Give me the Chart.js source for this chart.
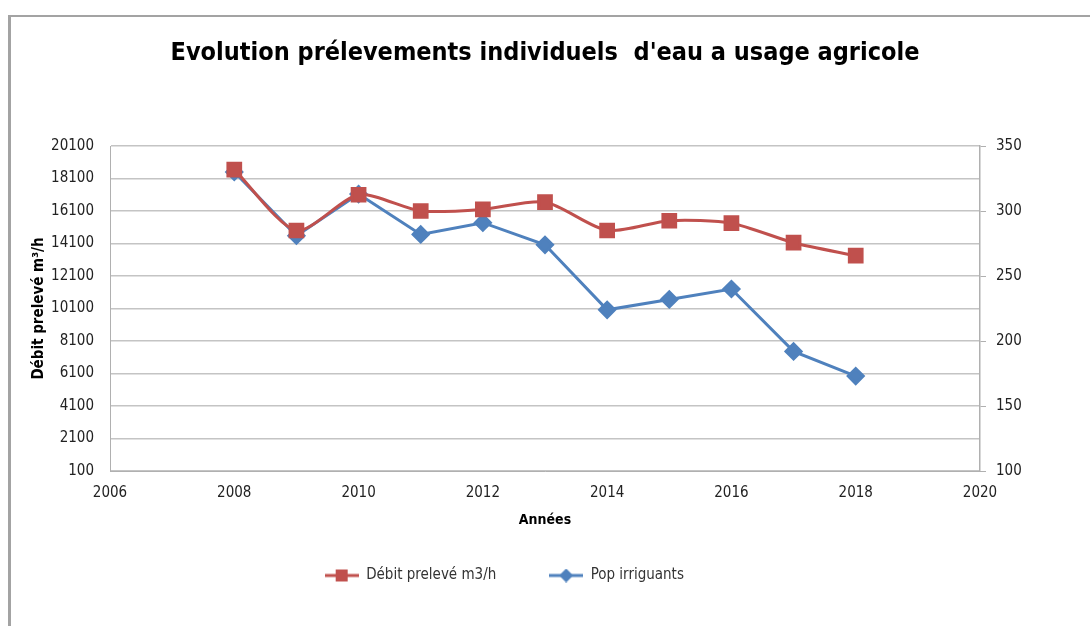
<!DOCTYPE html>
<html>
<head>
<meta charset="utf-8">
<script src="https://cdn.jsdelivr.net/npm/chart.js@4/dist/chart.umd.min.js"></script>
<style>
    body { margin: 0; background: #fff; }
    #frame { position: absolute; left: 8px; top: 15px; width: 1100px; height: 640px;
             border-left: 3px solid #a3a3a3; border-top: 2px solid #a3a3a3; }
    #wrap { position: absolute; left: 0; top: 0; width: 1090px; height: 626px; }
</style>
</head>
<body>
<div id="frame"></div>
<div id="wrap"><canvas id="chart" width="1090" height="626"></canvas></div>
<script>
var years = [2008, 2009, 2010, 2011, 2012, 2013, 2014, 2015, 2016, 2017, 2018];
var debit = [18650, 14900, 17100, 16100, 16200, 16650, 14900, 15500, 15350, 14150, 13350];
var irriguants = [330, 281, 313, 282, 291, 274, 224, 232, 240, 192, 173];
var leftTicks = [100, 2100, 4100, 6100, 8100, 10100, 12100, 14100, 16100, 18100, 20100];
var rightTicks = [100, 150, 200, 250, 300, 350];

var RED = '#c0504d';
var BLUE = '#4f81bd';
var FONT = '"DejaVu Sans Condensed", "Liberation Sans", sans-serif';

function points(values) {
    return years.map(function(y, i) { return { x: y, y: values[i] }; });
}

// small legend swatch: line with the marker in the middle, like Excel
function legendIcon(color, shape) {
    var c = document.createElement('canvas');
    c.width = 34; c.height = 14;
    var g = c.getContext('2d');
    g.strokeStyle = color; g.lineWidth = 3;
    g.beginPath(); g.moveTo(0, 7); g.lineTo(34, 7); g.stroke();
    g.fillStyle = color;
    if (shape === 'rect') {
        g.fillRect(11, 1, 12, 12);
    } else {
        g.beginPath(); g.moveTo(17, 0); g.lineTo(24, 7); g.lineTo(17, 14); g.lineTo(10, 7); g.closePath(); g.fill();
    }
    return c;
}

// trailing blanks only widen the gap between legend entries (Excel spacing)
var legendGap = ['          ', '                   '];

var ctx = document.getElementById('chart').getContext('2d');
var chart = new Chart(ctx, {
    type: 'line',
    data: {
        datasets: [{
            label: 'Débit prelevé m3/h',
            data: points(debit),
            yAxisID: 'y',
            borderColor: RED,
            backgroundColor: RED,
            borderWidth: 3,
            pointStyle: 'rect',
            pointRadius: 9,
            tension: 0.25
        }, {
            label: 'Pop irriguants',
            data: points(irriguants),
            yAxisID: 'y2',
            borderColor: BLUE,
            backgroundColor: BLUE,
            borderWidth: 3,
            pointStyle: 'rectRot',
            pointRadius: 7.5,
            tension: 0
        }]
    },
    options: {
        responsive: false,
        animation: false,
        layout: { padding: { left: 0, right: 0, top: 0, bottom: 33 } },
        plugins: {
            title: {
                display: true,
                text: "Evolution prélevements individuels  d'eau a usage agricole",
                color: '#000',
                font: { family: FONT, size: 25, weight: 'bold' },
                padding: { top: 38, bottom: 78 }
            },
            legend: {
                position: 'bottom',
                labels: {
                    usePointStyle: true,
                    pointStyleWidth: 34,
                    boxHeight: 14,
                    color: '#333',
                    font: { family: FONT, size: 15 },
                    padding: 10,
                    generateLabels: function(chart) {
                        return chart.data.datasets.map(function(ds, i) {
                            return {
                                text: ds.label + legendGap[i],
                                fontColor: '#333',
                                pointStyle: legendIcon(ds.borderColor, i === 0 ? 'rect' : 'diamond'),
                                datasetIndex: i,
                                lineWidth: 0
                            };
                        });
                    }
                }
            },
            tooltip: { enabled: false }
        },
        scales: {
            x: {
                type: 'linear',
                min: 2006,
                max: 2020,
                ticks: {
                    stepSize: 2,
                    color: '#222',
                    padding: 13,
                    font: { family: FONT, size: 15 },
                    callback: function(v) { return String(v); }
                },
                grid: { display: false, drawTicks: false },
                border: { display: true, color: '#b0b0b0', width: 1 },
                title: {
                    display: true,
                    text: 'Années',
                    color: '#000',
                    font: { family: FONT, size: 14, weight: 'bold' },
                    padding: { top: 12, bottom: 29 }
                },
                afterFit: function(scale) { scale.height = 87; }
            },
            y: {
                position: 'left',
                min: 100,
                max: 20100,
                afterBuildTicks: function(scale) {
                    scale.ticks = leftTicks.map(function(v) { return { value: v }; });
                },
                ticks: {
                    color: '#222',
                    padding: 16,
                    font: { family: FONT, size: 15 },
                    callback: function(v) { return String(v); }
                },
                grid: { color: '#c4c4c4', lineWidth: 1.5, drawTicks: false },
                border: { display: true, color: '#b0b0b0', width: 1 },
                title: {
                    display: true,
                    text: 'Débit prelevé m³/h',
                    color: '#000',
                    font: { family: FONT, size: 15, weight: 'bold' },
                    padding: { top: 30, bottom: 4 }
                },
                afterFit: function(scale) { scale.width = 110; }
            },
            y2: {
                position: 'right',
                min: 100,
                max: 350,
                afterBuildTicks: function(scale) {
                    scale.ticks = rightTicks.map(function(v) { return { value: v }; });
                },
                ticks: {
                    color: '#222',
                    padding: 10,
                    font: { family: FONT, size: 15 }
                },
                grid: { drawOnChartArea: false, drawTicks: true, tickLength: 6, color: '#b0b0b0' },
                border: { display: true, color: '#b0b0b0', width: 1.5 },
                afterFit: function(scale) { scale.width = 110; }
            }
        }
    }
});
</script>
</body>
</html>
